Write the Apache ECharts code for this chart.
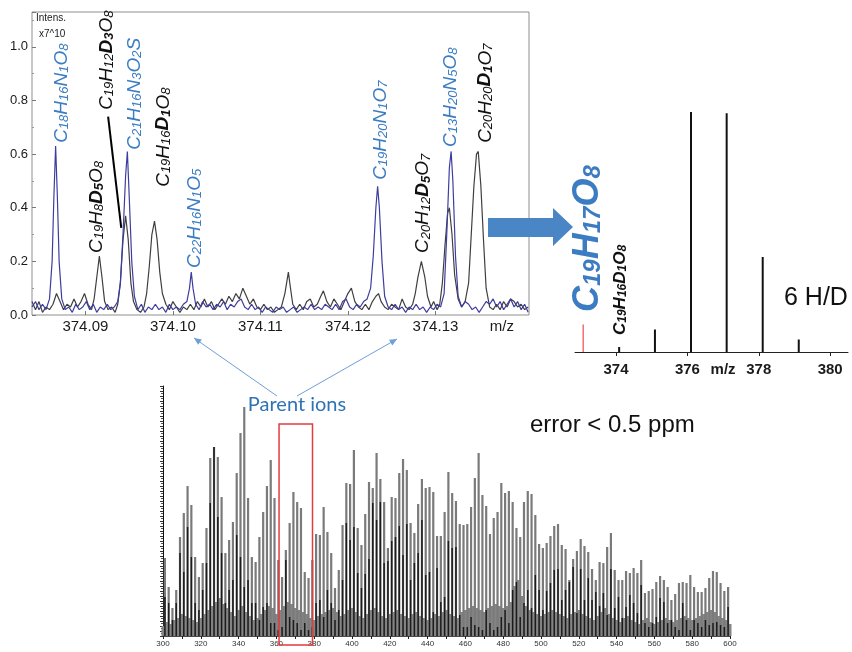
<!DOCTYPE html>
<html><head><meta charset="utf-8">
<script src="https://cdn.jsdelivr.net/npm/echarts@6/dist/echarts.min.js"></script>
<style>html,body{margin:0;padding:0;background:#fff}#c{width:852px;height:652px}</style>
</head><body><div id="c"></div>
<script>
// ---------- Panel A: high-resolution spectrum around m/z 374.1 ----------
const blueTrace = [
[374.0839,0.03],[374.0843,0.05],[374.0847,0.02],[374.0851,0.04],[374.0855,0.02],[374.0859,0.06],
[374.0862,0.20],[374.0864,0.44],[374.0866,0.63],[374.0868,0.44],[374.0870,0.20],[374.0873,0.06],
[374.0877,0.02],[374.0881,0.03],[374.0885,0.01],[374.0889,0.04],[374.0893,0.02],[374.0897,0.03],
[374.0901,0.05],[374.0905,0.02],[374.0909,0.04],[374.0913,0.01],[374.0917,0.03],[374.0921,0.02],
[374.0925,0.04],[374.0929,0.02],[374.0933,0.03],[374.0937,0.05],[374.0940,0.12],[374.0943,0.30],
[374.0946,0.52],[374.0948,0.61],[374.0950,0.45],[374.0953,0.20],[374.0956,0.07],[374.0960,0.02],
[374.0964,0.04],[374.0968,0.01],[374.0972,0.03],[374.0976,0.02],[374.0980,0.04],[374.0984,0.02],
[374.0988,0.03],[374.0992,0.01],[374.0996,0.04],[374.1000,0.02],[374.1004,0.03],[374.1008,0.02],
[374.1012,0.04],[374.1016,0.05],[374.1019,0.10],[374.1021,0.16],[374.1023,0.10],[374.1026,0.04],
[374.1030,0.02],[374.1034,0.05],[374.1038,0.03],[374.1042,0.04],[374.1046,0.02],[374.1050,0.04],
[374.1054,0.03],[374.1058,0.05],[374.1062,0.02],[374.1066,0.04],[374.1070,0.03],[374.1074,0.05],
[374.1078,0.06],[374.1082,0.03],[374.1086,0.02],[374.1090,0.04],[374.1094,0.02],[374.1098,0.03],
[374.1102,0.01],[374.1106,0.03],[374.1110,0.02],[374.1114,0.01],[374.1118,0.03],[374.1122,0.02],
[374.1126,0.03],[374.1130,0.01],[374.1134,0.02],[374.1138,0.03],[374.1142,0.01],[374.1146,0.02],
[374.1150,0.03],[374.1154,0.02],[374.1158,0.04],[374.1162,0.02],[374.1166,0.03],[374.1170,0.02],
[374.1174,0.04],[374.1178,0.03],[374.1182,0.02],[374.1186,0.04],[374.1190,0.02],[374.1194,0.05],
[374.1198,0.06],[374.1202,0.03],[374.1206,0.02],[374.1210,0.04],[374.1214,0.03],[374.1218,0.05],
[374.1222,0.06],[374.1226,0.10],[374.1229,0.22],[374.1232,0.40],[374.1234,0.48],[374.1236,0.40],
[374.1239,0.20],[374.1242,0.07],[374.1246,0.03],[374.1250,0.02],[374.1254,0.04],[374.1258,0.02],
[374.1262,0.03],[374.1266,0.01],[374.1270,0.03],[374.1274,0.02],[374.1278,0.04],[374.1282,0.02],
[374.1286,0.03],[374.1290,0.01],[374.1294,0.03],[374.1298,0.02],[374.1302,0.04],[374.1306,0.03],
[374.1310,0.08],[374.1313,0.30],[374.1316,0.55],[374.1318,0.61],[374.1320,0.50],[374.1323,0.22],
[374.1326,0.07],[374.1330,0.03],[374.1334,0.05],[374.1338,0.04],[374.1342,0.02],[374.1346,0.03],
[374.1350,0.01],[374.1354,0.03],[374.1358,0.05],[374.1362,0.04],[374.1366,0.06],[374.1370,0.03],
[374.1374,0.05],[374.1378,0.02],[374.1382,0.04],[374.1386,0.06],[374.1390,0.03],[374.1394,0.05],
[374.1398,0.02],[374.1402,0.04],[374.1406,0.01]
];
const blackTrace = [
[374.0839,0.05],[374.0843,0.02],[374.0847,0.05],[374.0851,0.01],[374.0855,0.03],[374.0859,0.02],
[374.0863,0.04],[374.0867,0.08],[374.0871,0.05],[374.0875,0.02],[374.0879,0.04],[374.0883,0.03],
[374.0887,0.06],[374.0891,0.03],[374.0895,0.05],[374.0899,0.08],[374.0903,0.04],[374.0907,0.02],
[374.0910,0.06],[374.0913,0.14],[374.0916,0.22],[374.0919,0.14],[374.0922,0.05],[374.0926,0.02],
[374.0930,0.03],[374.0934,0.01],[374.0937,0.04],[374.0940,0.12],[374.0943,0.28],[374.0946,0.37],
[374.0949,0.28],[374.0952,0.12],[374.0955,0.05],[374.0959,0.02],[374.0963,0.01],[374.0967,0.03],
[374.0970,0.08],[374.0973,0.18],[374.0976,0.30],[374.0979,0.35],[374.0982,0.28],[374.0985,0.16],
[374.0988,0.08],[374.0992,0.04],[374.0996,0.02],[374.1000,0.05],[374.1004,0.03],[374.1008,0.01],
[374.1012,0.03],[374.1016,0.02],[374.1020,0.04],[374.1024,0.02],[374.1028,0.05],[374.1032,0.03],
[374.1036,0.06],[374.1040,0.03],[374.1044,0.05],[374.1048,0.02],[374.1052,0.04],[374.1056,0.06],
[374.1060,0.04],[374.1064,0.07],[374.1068,0.05],[374.1072,0.08],[374.1076,0.06],[374.1080,0.10],
[374.1084,0.07],[374.1088,0.04],[374.1092,0.06],[374.1096,0.03],[374.1100,0.02],[374.1104,0.04],
[374.1108,0.02],[374.1112,0.03],[374.1116,0.01],[374.1120,0.02],[374.1124,0.03],[374.1128,0.08],
[374.1130,0.12],[374.1132,0.16],[374.1134,0.11],[374.1137,0.04],[374.1141,0.02],[374.1145,0.04],
[374.1149,0.02],[374.1153,0.05],[374.1157,0.06],[374.1161,0.03],[374.1165,0.04],[374.1169,0.07],
[374.1172,0.09],[374.1176,0.05],[374.1180,0.03],[374.1184,0.06],[374.1188,0.04],[374.1192,0.02],
[374.1196,0.05],[374.1200,0.08],[374.1204,0.10],[374.1208,0.05],[374.1212,0.03],[374.1216,0.02],
[374.1220,0.04],[374.1224,0.02],[374.1228,0.05],[374.1232,0.07],[374.1235,0.08],[374.1238,0.05],
[374.1242,0.03],[374.1246,0.02],[374.1250,0.04],[374.1254,0.03],[374.1258,0.02],[374.1262,0.06],
[374.1266,0.03],[374.1270,0.02],[374.1274,0.04],[374.1277,0.08],[374.1280,0.14],[374.1284,0.20],
[374.1288,0.14],[374.1291,0.07],[374.1295,0.03],[374.1298,0.05],[374.1302,0.02],[374.1305,0.04],
[374.1308,0.12],[374.1311,0.26],[374.1314,0.38],[374.1316,0.40],[374.1319,0.30],[374.1322,0.15],
[374.1326,0.06],[374.1330,0.03],[374.1334,0.05],[374.1338,0.12],[374.1341,0.30],[374.1344,0.48],
[374.1347,0.60],[374.1349,0.61],[374.1352,0.48],[374.1355,0.28],[374.1358,0.10],[374.1362,0.03],
[374.1366,0.02],[374.1370,0.04],[374.1374,0.02],[374.1378,0.05],[374.1382,0.03],[374.1386,0.06],
[374.1390,0.05],[374.1394,0.03],[374.1398,0.04],[374.1402,0.02],[374.1406,0.03]
];
const leaderLine = [[374.0926,0.74],[374.0941,0.325]];
const peakFormulas = ['C18H16N1O8','C19H8D5O8','C19H12D3O8','C21H16N3O2S','C19H16D1O8','C22H16N1O5','C19H20N1O7','C20H12D5O7','C13H20N5O8','C20H20D1O7'];
const peakKinds    = ['blue','black','black','blue','black','blue','blue','black','blue','black'];
const peakLabelMz  = [374.0873,374.0913,374.0924,374.0956,374.0989,374.1025,374.1237,374.1286,374.1317,374.1357];
const peakLabelInt = [0.642,0.231,0.765,0.616,0.478,0.175,0.504,0.231,0.627,0.642];
const aTickValues  = [374.09,374.10,374.11,374.12,374.13];
const aLabelValues = [374.09,374.10,374.11,374.12,374.13,374.1376];
const aLabelTexts  = ['374.09','374.10','374.11','374.12','374.13','m/z'];

// ---------- Panel B: isotope pattern ----------
const isoMz  = [373.08,374.087,375.09,376.10,377.10,378.11,379.12];
const isoInt = [0.11,0.02,0.09,0.96,0.955,0.38,0.05];
const isoTickValues  = [374,376,378,380];
const isoLabelValues = [374,376,377,378,380];
const isoLabelTexts  = ['374','376','m/z','378','380'];
const isoMainFormula = 'C19H17O8';
const isoSubFormula  = 'C19H16D1O8';

// ---------- Panel C: full spectrum 300-600 ----------
const grayPeaks = [78,49,28,46,99,123,150,131,79,59,
 73,108,178,189,179,139,83,96,114,163,
 203,229,138,79,74,99,124,150,176,138,
 76,59,86,113,144,134,128,64,58,76,
 102,101,129,104,83,48,66,111,153,152,
 186,108,91,122,154,148,183,157,134,88,
 139,138,163,177,166,113,103,132,157,148,
 149,144,100,100,124,164,143,135,112,111,
 112,129,158,183,141,130,102,118,124,153,
 143,145,134,108,99,134,145,142,121,92,
 88,93,100,110,112,91,87,56,77,85,
 97,90,84,67,56,74,73,89,103,66,
 56,56,65,63,68,63,76,43,45,47,
 54,60,56,49,36,42,53,54,53,61,
 49,44,44,48,58,65,64,53,45,49];
const blackPeaks = [39,33,16,33,83,64,109,79,33,26,
 46,73,133,189,119,83,33,46,56,101,
 79,49,56,33,33,16,29,33,13,13,
 6,9,76,19,16,13,6,13,6,9,
 33,36,19,46,33,16,26,56,113,96,
 109,63,48,62,77,133,116,134,73,75,
 95,99,110,81,112,56,73,83,116,61,
 64,24,68,34,39,95,88,89,21,9,
 9,19,11,9,6,26,13,6,9,19,
 26,13,46,54,19,33,46,28,61,46,
 26,45,53,66,67,36,46,54,69,23,
 67,36,58,36,44,30,43,21,67,28,
 39,18,29,41,33,23,51,13,9,13,
 19,38,34,13,16,9,6,33,16,6,
 16,13,9,16,11,13,14,11,9,29];
const lowBackground = [10,14,12,16,18,22,20,18,16,14,
 18,22,26,30,34,38,32,28,24,20,
 26,30,24,20,16,18,22,26,30,28,
 22,26,30,34,32,28,26,24,22,18,
 16,20,22,24,26,28,24,20,22,26,
 28,24,20,18,22,26,28,24,20,18,
 22,24,26,22,20,18,22,24,20,18,
 16,18,22,20,24,26,22,20,18,24,
 26,28,30,28,26,24,28,30,32,30,
 28,30,34,50,56,40,30,26,24,22,
 20,22,24,26,24,22,20,18,22,24,
 26,22,20,18,16,20,24,28,22,18,
 16,14,18,20,16,14,12,16,18,14,
 12,14,16,18,16,14,16,18,20,18,
 16,18,20,22,24,26,24,20,18,16,
 12];
const parentBox = {from: 361.4, to: 379.1, top: 212};

// nominal mass positions
const oddMasses  = grayPeaks.map((_, i) => 301 + 2 * i);
const evenMasses = lowBackground.map((_, i) => 300 + 2 * i);

const FONT = '"Liberation Sans", Arial, sans-serif';
const BLUE_TXT = '#3b7cc2';

function stickSeries(xi, yi, data, color, width, z) {
  return {
    type: 'custom', xAxisIndex: xi, yAxisIndex: yi, data: data, z: z, silent: true,
    encode: {x: 0, y: 1},
    renderItem: function (params, api) {
      const p0 = api.coord([api.value(0), 0]);
      const p1 = api.coord([api.value(0), api.value(1)]);
      return {type: 'line', shape: {x1: p0[0], y1: p0[1], x2: p1[0], y2: p1[1]},
              style: {stroke: color, lineWidth: width}};
    }
  };
}

function richFormula(f) {
  return f.replace(/([A-Z][a-z]?)(\d*)/g, function (m, el, num) {
    const d = el === 'D';
    return '{' + (d ? 'd' : 'n') + '|' + el + '}' + (num ? '{' + (d ? 'ds' : 's') + '|' + num + '}' : '');
  });
}
function richStyles(color, big, small, bold) {
  const w = bold ? 'bold' : 'normal';
  return {
    n:  {fontFamily: FONT, fontStyle: 'italic', fontWeight: w, fontSize: big, fill: color, color: color},
    s:  {fontFamily: FONT, fontStyle: 'italic', fontWeight: w, fontSize: small, fill: color, color: color, verticalAlign: 'bottom'},
    d:  {fontFamily: FONT, fontStyle: 'italic', fontWeight: 'bold', fontSize: big, fill: color, color: color},
    ds: {fontFamily: FONT, fontStyle: 'italic', fontWeight: 'bold', fontSize: small, fill: color, color: color, verticalAlign: 'bottom'}
  };
}

const chart = echarts.init(document.getElementById('c'), null, {renderer: 'canvas'});
chart.setOption({
  animation: false,
  backgroundColor: '#fff',
  grid: [
    {left: 32, top: 12, width: 497, height: 303, show: true, borderColor: '#8f8f8f', borderWidth: 1, backgroundColor: 'transparent'},
    {left: 575, top: 102, width: 273, height: 250},
    {left: 163, top: 386, width: 567, height: 250}
  ],
  xAxis: [
    {type: 'value', gridIndex: 0, min: 374.0839, max: 374.1407,
     axisLine: {show: false}, splitLine: {show: false},
     axisTick: {show: true, inside: true, length: 4, customValues: aTickValues, lineStyle: {color: '#777'}},
     axisLabel: {customValues: aLabelValues, margin: 4, fontSize: 15, color: '#1a1a1a', fontFamily: FONT,
       formatter: function (v) { let best = 0; aLabelValues.forEach((x, i) => { if (Math.abs(x - v) < Math.abs(aLabelValues[best] - v)) best = i; }); return aLabelTexts[best]; }}},
    {type: 'value', gridIndex: 1, min: 372.85, max: 380.5,
     axisLine: {show: true, lineStyle: {color: '#222', width: 1}}, splitLine: {show: false},
     axisTick: {show: true, length: 4, customValues: isoTickValues, lineStyle: {color: '#222'}},
     axisLabel: {customValues: isoLabelValues, margin: 10, fontSize: 15, fontWeight: 'bold', color: '#1a1a1a', fontFamily: FONT,
       formatter: function (v) { let best = 0; isoLabelValues.forEach((x, i) => { if (Math.abs(x - v) < Math.abs(isoLabelValues[best] - v)) best = i; }); return isoLabelTexts[best]; }}},
    {type: 'value', gridIndex: 2, min: 300, max: 600, interval: 10,
     axisLine: {show: true, lineStyle: {color: '#111', width: 1.5}}, splitLine: {show: false},
     axisTick: {show: true, length: 3, lineStyle: {color: '#222'}},
     axisLabel: {fontSize: 8, color: '#333', margin: 4, fontFamily: FONT, showMinLabel: true, showMaxLabel: true,
       formatter: function (v) { return v % 20 === 0 ? String(v) : ''; }}}
  ],
  yAxis: [
    {type: 'value', gridIndex: 0, min: 0, max: 1.13, interval: 0.2,
     axisLine: {show: false}, splitLine: {show: false},
     axisTick: {show: true, inside: true, length: 4, lineStyle: {color: '#777'}},
     minorTick: {show: true, splitNumber: 2, length: 2, lineStyle: {color: '#999'}},
     axisLabel: {showMaxLabel: false, fontSize: 13, color: '#1a1a1a', margin: 4, fontFamily: FONT,
       formatter: function (v) { return v.toFixed(1); }}},
    {type: 'value', gridIndex: 1, min: 0, max: 1, show: false},
    {type: 'value', gridIndex: 2, min: 0, max: 250, interval: 5,
     axisLine: {show: true, lineStyle: {color: '#111', width: 1}}, splitLine: {show: false},
     axisTick: {show: true, length: 3, lineStyle: {color: '#333'}},
     minorTick: {show: true, splitNumber: 2, length: 2, lineStyle: {color: '#555'}},
     axisLabel: {show: false}}
  ],
  series: [
    {type: 'line', xAxisIndex: 0, yAxisIndex: 0, data: blackTrace, showSymbol: false, silent: true,
     lineStyle: {color: '#3f3f3f', width: 1.2}, z: 2},
    {type: 'line', xAxisIndex: 0, yAxisIndex: 0, data: blueTrace, showSymbol: false, silent: true,
     lineStyle: {color: '#3d3da0', width: 1.2}, z: 3},
    {type: 'line', xAxisIndex: 0, yAxisIndex: 0, data: leaderLine, showSymbol: false, silent: true,
     lineStyle: {color: '#000', width: 2}, z: 4},
    stickSeries(1, 1, [[isoMz[0], isoInt[0]]], '#f07070', 1.5, 3),
    stickSeries(1, 1, isoMz.slice(1).map((m, i) => [m, isoInt[i + 1]]), '#111', 2, 3),
    stickSeries(2, 2, evenMasses.map((m, i) => [m, lowBackground[i]]), '#858585', 3, 2),
    stickSeries(2, 2, oddMasses.map((m, i) => [m, grayPeaks[i]]), '#7a7a7a', 2.2, 3),
    stickSeries(2, 2, oddMasses.map((m, i) => [m, blackPeaks[i]]), '#1c1c1c', 1.5, 4)
  ]
});

// ---------- annotations placed from data coordinates ----------
const g = [];
function px(gi, pt) { return chart.convertToPixel({xAxisIndex: gi, yAxisIndex: gi}, pt); }

peakFormulas.forEach(function (f, i) {
  const p = px(0, [peakLabelMz[i], peakLabelInt[i]]);
  const col = peakKinds[i] === 'blue' ? BLUE_TXT : '#111';
  g.push({type: 'text', x: p[0], y: p[1], rotation: Math.PI / 2, z: 20,
    style: {text: richFormula(f), rich: richStyles(col, 19, 13, false), align: 'left', verticalAlign: 'middle', fill: col}});
});

const pm = px(1, [373.21, 0.16]);
g.push({type: 'text', x: pm[0], y: pm[1], rotation: Math.PI / 2, z: 20,
  style: {text: richFormula(isoMainFormula), rich: richStyles(BLUE_TXT, 36, 24, true), align: 'left', verticalAlign: 'middle', fill: BLUE_TXT}});
const ps = px(1, [374.13, 0.068]);
g.push({type: 'text', x: ps[0], y: ps[1], rotation: Math.PI / 2, z: 20,
  style: {text: richFormula(isoSubFormula), rich: richStyles('#111', 17, 12, true), align: 'left', verticalAlign: 'middle', fill: '#111'}});

g.push({type: 'text', x: 36, y: 13, z: 20, style: {text: 'Intens.', font: '10px ' + FONT, fill: '#222'}});
g.push({type: 'text', x: 39, y: 29, z: 20, style: {text: 'x7^10', font: '10px ' + FONT, fill: '#222'}});
g.push({type: 'text', x: 784, y: 298, z: 20, style: {text: '6 H/D', font: '25px ' + FONT, fill: '#111', verticalAlign: 'middle'}});
g.push({type: 'text', x: 530, y: 425, z: 20, style: {text: 'error < 0.5 ppm', font: '24px ' + FONT, fill: '#111', verticalAlign: 'middle'}});
g.push({type: 'text', x: 297, y: 405, z: 20, style: {text: 'Parent ions', font: '20px Lato, "Open Sans", sans-serif', fill: '#2e74b5', align: 'center', verticalAlign: 'middle'}});

// big blue arrow
g.push({type: 'polygon', z: 20, shape: {points: [[488,218],[553,218],[553,208],[573,227],[553,246],[553,237],[488,237]]},
  style: {fill: '#4a86c6'}});

// thin arrows from "Parent ions"
function thinArrow(x1, y1, x2, y2) {
  const a = Math.atan2(y2 - y1, x2 - x1), L = 8, W = 0.42;
  g.push({type: 'line', z: 20, shape: {x1: x1, y1: y1, x2: x2, y2: y2}, style: {stroke: '#6f9fd6', lineWidth: 1}});
  g.push({type: 'polygon', z: 20, shape: {points: [[x2, y2],
    [x2 - L * Math.cos(a - W), y2 - L * Math.sin(a - W)],
    [x2 - L * Math.cos(a + W), y2 - L * Math.sin(a + W)]]}, style: {fill: '#6f9fd6'}});
}
thinArrow(277, 396, 194, 338);
thinArrow(297, 396, 397, 339);

// red box around the parent-ion window
const b1 = px(2, [parentBox.from, parentBox.top]);
const b2 = px(2, [parentBox.to, 0]);
g.push({type: 'rect', z: 20, shape: {x: b1[0], y: b1[1], width: b2[0] - b1[0], height: b2[1] - b1[1] + 9},
  style: {fill: 'none', stroke: '#e23c3c', lineWidth: 1.5}});

chart.setOption({graphic: g});
</script>
</body></html>
